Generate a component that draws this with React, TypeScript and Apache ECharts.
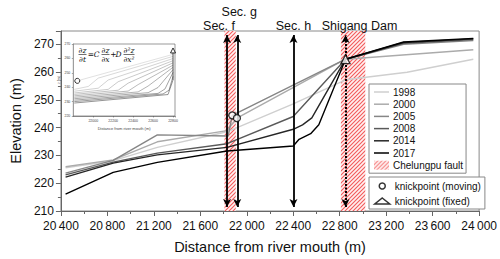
import React, { useEffect, useRef } from 'react';
import * as echarts from 'echarts';

const years = ['1998', '2000', '2005', '2008', '2014', '2017'];
const yearColors = ['#cfcfcf', '#ababab', '#868686', '#5a5a5a', '#262626', '#000000'];

const p1998 = [[20440, 225.5], [20850, 228.1], [21230, 232.9], [21830, 238.5], [22400, 248.5], [22850, 257.2], [23380, 259.9], [23950, 264.6]];
const p2000 = [[20440, 225.9], [20850, 228.4], [21230, 234.9], [21830, 238.9], [21915, 243.4], [22850, 264.6], [23950, 268.0]];
const p2005 = [[20440, 223.6], [20850, 228.2], [21230, 237.4], [21840, 237.0], [21875, 244.4], [22850, 264.6], [23350, 270.0], [23950, 271.3]];
const p2008 = [[20440, 223.0], [20850, 227.6], [21230, 230.8], [21830, 234.2], [22400, 244.0], [22850, 264.6], [23350, 270.3], [23950, 271.7]];
const p2014 = [[20440, 222.2], [20850, 227.2], [21230, 230.2], [21830, 232.9], [22400, 239.4], [22480, 241.0], [22560, 243.5], [22850, 264.6], [23350, 270.6], [23950, 271.9]];
const p2017 = [[20440, 216.1], [20850, 223.9], [21230, 227.5], [21830, 231.6], [22400, 233.4], [22450, 235.8], [22550, 237.8], [22620, 241.0], [22850, 264.6], [23350, 270.8], [23950, 272.1]];
const profiles = [p1998, p2000, p2005, p2008, p2014, p2017];

const knickMoving = [[21875, 244.4], [21915, 243.4]];
const knickFixed = [[22850, 264.6]];

const secNames = ['Sec. f', 'Sec. g', 'Sec. h', 'Shigang Dam'];
const secX = [21830, 21918, 22402, 22850];
const secYRange = [211.45, 273.3];
const faultRanges = [[21808, 21905], [22810, 23020]];

const insetProfiles = [
  [[21840, 244.4], [22800, 262.8]],
  [[21810, 238.5], [21950, 240.5], [22050, 246.3], [22800, 261.4]],
  [[21810, 237.2], [22050, 239.3], [22150, 245.0], [22800, 259.9]],
  [[21810, 236.0], [22150, 238.5], [22250, 243.8], [22800, 258.4]],
  [[21810, 235.0], [22250, 237.9], [22350, 242.8], [22800, 256.9]],
  [[21810, 234.0], [22350, 237.3], [22450, 241.8], [22800, 255.3]],
  [[21810, 233.0], [22450, 236.7], [22550, 240.8], [22800, 253.8]],
  [[21810, 232.0], [22550, 236.2], [22650, 239.8], [22800, 252.2]],
  [[21810, 231.0], [22650, 235.7], [22720, 238.8], [22800, 250.3]],
  [[21810, 230.0], [22700, 235.3], [22760, 237.9], [22800, 247.5]],
  [[21810, 229.0], [22750, 234.9], [22800, 245.0]],
];
const insetFixedSeg = [[22800, 245.0], [22800, 264.2]];
const insetMoving = [[21840, 244.4]];
const insetFixed = [[22800, 265.5]];

const FONT = 'Liberation Sans, Arial, sans-serif';
const LINE_ICON = 'path://M0,0H20V2H0Z';

function makeHatch() {
  const s = 4;
  const c = document.createElement('canvas');
  c.width = s;
  c.height = s;
  const ctx = c.getContext('2d')!;
  ctx.fillStyle = '#fff0f0';
  ctx.fillRect(0, 0, s, s);
  ctx.strokeStyle = '#f25a5a';
  ctx.lineWidth = 1.1;
  ctx.beginPath();
  ctx.moveTo(-1, s + 1); ctx.lineTo(s + 1, -1);
  ctx.moveTo(-1, 1); ctx.lineTo(1, -1);
  ctx.moveTo(s - 1, s + 1); ctx.lineTo(s + 1, s - 1);
  ctx.stroke();
  return { image: c, repeat: 'repeat', imageWidth: s, imageHeight: s } as any;
}

export default function App() {
  const ref = useRef<HTMLDivElement>(null);
  useEffect(() => {
    if (!ref.current) return;
    const chart = echarts.init(ref.current, null, { renderer: 'svg' });
    const hatch = makeHatch();
    const eqFont = { fontFamily: 'DejaVu Serif, serif', fontStyle: 'italic', fontSize: 7.5, fill: '#111' };
    const t = (text: string, x: number, y: number, extra: any = {}) => ({
      type: 'text', x, y, style: { text, ...eqFont, align: 'center', verticalAlign: 'middle', ...extra }, z: 100,
    });
    const bar = (x1: number, x2: number, y: number) => ({
      type: 'line', shape: { x1, y1: y, x2, y2: y }, style: { stroke: '#111', lineWidth: 0.6 }, z: 100,
    });
    const eqY = 54.5;
    const graphic = [
      t('∂z', 82.5, eqY - 4.3), bar(78.5, 86.5, eqY), t('∂t', 82.5, eqY + 4.5),
      t('=', 91, eqY, { fontStyle: 'normal' }),
      t('C', 96.5, eqY),
      t('∂z', 105.5, eqY - 4.3), bar(101.5, 109.5, eqY), t('∂x', 105.5, eqY + 4.5),
      t('+', 113.5, eqY, { fontStyle: 'normal' }),
      t('D', 118.5, eqY),
      t('∂²z', 129, eqY - 4.3), bar(123.5, 134.5, eqY), t('∂x²', 129, eqY + 4.5),
    ];

    const lineSeries = years.map((y, i) => ({
      name: y, type: 'line', data: profiles[i], symbol: 'none', xAxisIndex: 0, yAxisIndex: 0,
      lineStyle: { color: yearColors[i], width: 1.4 }, itemStyle: { color: yearColors[i] }, z: 3,
    }));

    const insetSeries = insetProfiles.map((d, i) => {
      const g = Math.round(205 - (i * 130) / (insetProfiles.length - 1));
      const col = `rgb(${g},${g},${g})`;
      return {
        type: 'line', data: d, symbol: 'none', xAxisIndex: 1, yAxisIndex: 1,
        lineStyle: { color: col, width: 0.6 }, z: 20, silent: true,
      };
    });

    const labelOffsets = [[-8, -3], [2, -17], [0, -3], [14, -3]];

    const option: any = {
      animation: false,
      textStyle: { fontFamily: FONT },
      graphic,
      grid: [
        { left: 52.7, right: 20.7, top: 31, bottom: 46.7, show: true, borderColor: '#8a8a8a', borderWidth: 1 },
        { left: 73.3, top: 44, width: 101.7, height: 72, show: true, backgroundColor: '#fff', borderColor: '#555', borderWidth: 0.6, z: 10 },
      ],
      xAxis: [
        {
          type: 'value', gridIndex: 0, min: 20400, max: 24000, interval: 400,
          name: 'Distance from river mouth (m)', nameLocation: 'middle', nameGap: 28,
          nameTextStyle: { fontSize: 14.5, color: '#111', fontFamily: FONT },
          axisLine: { lineStyle: { color: '#666', width: 1 } },
          axisTick: { show: true, length: 5, lineStyle: { color: '#666' } },
          minorTick: { show: true, splitNumber: 2, length: 3, lineStyle: { color: '#666' } },
          splitLine: { show: false },
          axisLabel: {
            fontSize: 12, color: '#111', margin: 9, fontFamily: FONT,
            formatter: (v: number) => { const s = String(v); return s.slice(0, s.length - 3) + '\u2009' + s.slice(-3); },
          },
        },
        {
          type: 'value', gridIndex: 1, min: 21800, max: 22820, interval: 200,
          name: 'Distance from river mouth (m)', nameLocation: 'middle', nameGap: 10,
          nameTextStyle: { fontSize: 4, color: '#444' },
          axisLine: { lineStyle: { color: '#555', width: 0.6 } },
          axisTick: { show: true, length: 1.5, lineStyle: { color: '#555', width: 0.5 } },
          splitLine: { show: false },
          axisLabel: { fontSize: 3.5, color: '#444', margin: 3, showMinLabel: false, formatter: (v: number) => (v % 200 === 0 ? String(v) : '') },
        },
      ],
      yAxis: [
        {
          type: 'value', gridIndex: 0, min: 210, max: 274.75, interval: 10,
          name: 'Elevation (m)', nameLocation: 'middle', nameGap: 37,
          nameTextStyle: { fontSize: 14.5, color: '#111', fontFamily: FONT },
          axisLine: { show: true, lineStyle: { color: '#666', width: 1 } },
          axisTick: { show: true, length: 5, lineStyle: { color: '#666' } },
          minorTick: { show: true, splitNumber: 2, length: 3, lineStyle: { color: '#666' } },
          splitLine: { show: false },
          axisLabel: { fontSize: 12, color: '#111', margin: 7, fontFamily: FONT, formatter: (v: number) => (v % 10 === 0 ? String(v) : '') },
        },
        {
          type: 'value', gridIndex: 1, min: 220, max: 270, interval: 10,
          name: 'z (m)', nameLocation: 'middle', nameGap: 8,
          nameTextStyle: { fontSize: 3.5, color: '#444' },
          axisLine: { show: true, lineStyle: { color: '#555', width: 0.6 } },
          axisTick: { show: true, length: 1.5, lineStyle: { color: '#555', width: 0.5 } },
          splitLine: { show: false },
          axisLabel: { fontSize: 3.5, color: '#444', margin: 3 },
        },
      ],
      legend: [
        {
          data: [...years.map((y) => ({ name: y, icon: LINE_ICON })), { name: 'Chelungpu fault', icon: 'rect' }],
          orient: 'vertical', left: 369, top: 84, itemWidth: 15, itemHeight: 9, itemGap: 2.2,
          symbolKeepAspect: true,
          padding: [3, 3, 3, 5], borderColor: '#888', borderWidth: 1, backgroundColor: '#fff',
          textStyle: { fontSize: 10, color: '#111', fontFamily: FONT, padding: [0, 0, 0, -1] },
          selectedMode: false, z: 30,
        },
        {
          data: [
            { name: 'knickpoint (moving)', icon: 'circle' },
            { name: 'knickpoint (fixed)', icon: 'triangle' },
          ],
          orient: 'vertical', left: 369, top: 177, itemWidth: 15, itemHeight: 6, itemGap: 5,
          padding: [4, 4, 3, 5], borderColor: '#888', borderWidth: 1, backgroundColor: '#fff',
          textStyle: { fontSize: 10, color: '#111', fontFamily: FONT },
          itemStyle: { borderWidth: 1.5, borderColor: '#000', color: '#fff' },
          selectedMode: false, z: 30,
        },
      ],
      series: [
        {
          name: 'Chelungpu fault', type: 'scatter', data: [], xAxisIndex: 0, yAxisIndex: 0,
          itemStyle: { color: hatch }, z: 1,
          markArea: {
            silent: true,
            itemStyle: { color: hatch },
            data: faultRanges.map((r) => [{ xAxis: r[0] }, { xAxis: r[1] }]),
          },
        },
        ...lineSeries,
        {
          name: 'sections', type: 'line', data: [], xAxisIndex: 0, yAxisIndex: 0, z: 6,
          markLine: {
            silent: true, symbol: ['arrow', 'arrow'], symbolSize: [6, 8],
            lineStyle: { color: '#000', width: 1.8, type: 'solid' },
            label: { show: true, position: 'end', fontSize: 12.5, color: '#111', fontFamily: FONT, distance: 0 },
            data: secNames.map((n, i) => [
              {
                coord: [secX[i], secYRange[0]],
                label: { formatter: n, offset: labelOffsets[i] },
                lineStyle: i === 3 ? { type: [2, 1.5], width: 2 } : {},
              },
              { coord: [secX[i], secYRange[1]] },
            ]),
          },
        },
        {
          name: 'knickpoint (moving)', type: 'scatter', data: knickMoving, symbol: 'circle', symbolSize: 7,
          itemStyle: { color: '#fff', borderColor: '#000', borderWidth: 1.3 }, z: 8,
        },
        {
          name: 'knickpoint (fixed)', type: 'scatter', data: knickFixed, symbol: 'triangle', symbolSize: 9,
          itemStyle: { color: '#fff', borderColor: '#000', borderWidth: 1.3 }, z: 8,
        },
        ...insetSeries,
        {
          type: 'line', data: insetFixedSeg, symbol: 'none', xAxisIndex: 1, yAxisIndex: 1,
          lineStyle: { color: '#222', width: 0.8 }, z: 21,
        },
        {
          type: 'scatter', data: insetMoving, symbol: 'circle', symbolSize: 5, xAxisIndex: 1, yAxisIndex: 1,
          itemStyle: { color: '#fff', borderColor: '#000', borderWidth: 1 }, z: 22,
        },
        {
          type: 'scatter', data: insetFixed, symbol: 'triangle', symbolSize: 5, xAxisIndex: 1, yAxisIndex: 1,
          itemStyle: { color: '#fff', borderColor: '#000', borderWidth: 1 }, z: 22,
        },
      ],
    };
    chart.setOption(option);
    return () => chart.dispose();
  }, []);
  return <div ref={ref} style={{ width: 500, height: 259, position: 'absolute', left: 0, top: 0 }} />;
}
